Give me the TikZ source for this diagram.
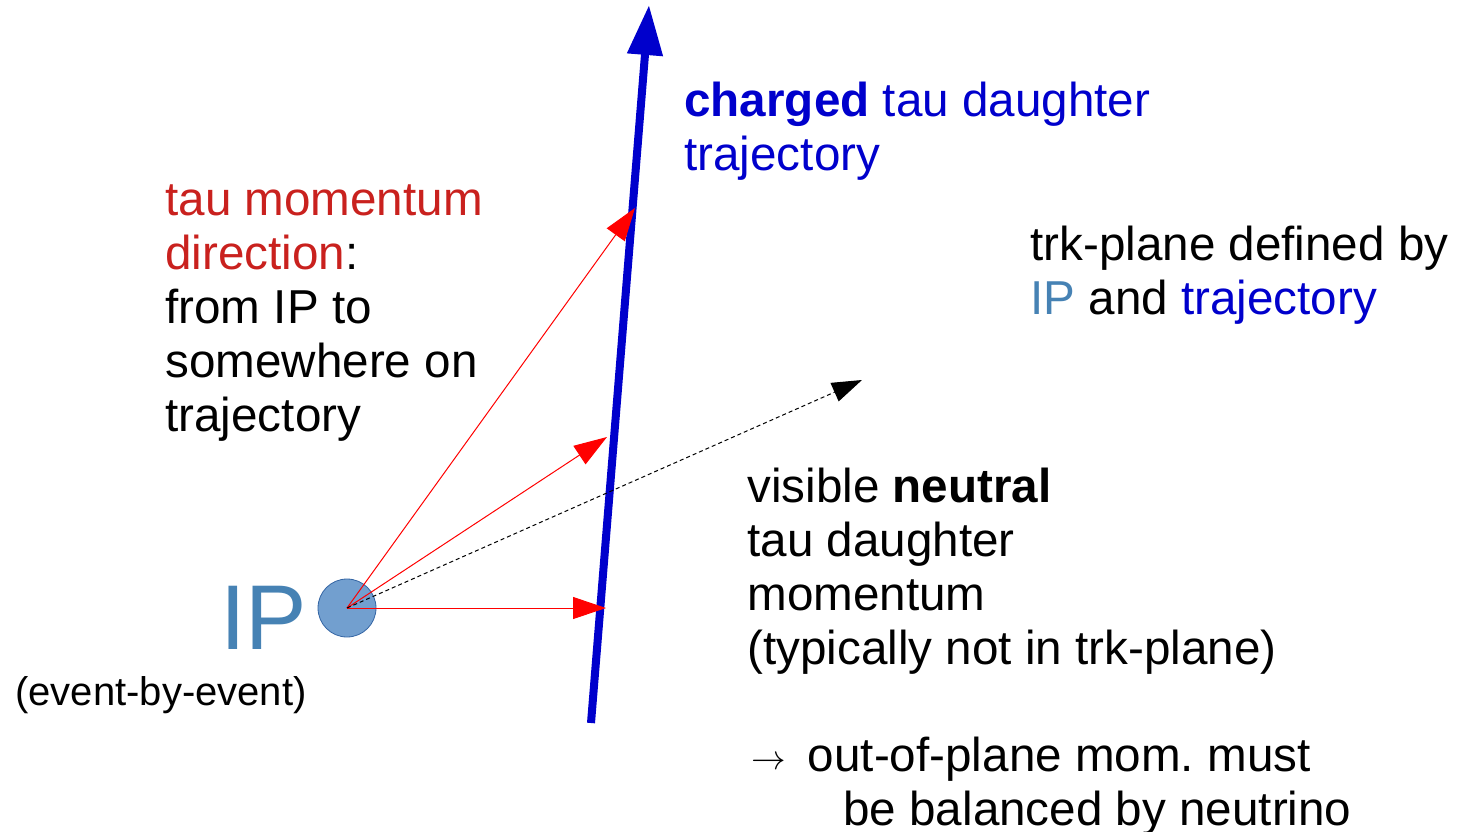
\documentclass[tikz,border=0pt]{standalone}
\usepackage{fontspec}
\setmainfont{Liberation Sans}
\usetikzlibrary{arrows.meta}
\definecolor{trkblue}{RGB}{0,0,204}
\definecolor{taured}{RGB}{201,33,30}
\definecolor{ipblue}{RGB}{70,130,180}
\definecolor{ipfill}{RGB}{114,159,207}
\definecolor{ipdraw}{RGB}{52,101,164}
\frenchspacing
\tikzset{
  txt/.style={anchor=base west, inner sep=0pt, font=\fontsize{23.8}{27}\selectfont},
  smalltxt/.style={anchor=base west, inner sep=0pt, font=\fontsize{20}{23}\selectfont},
  trkarrow/.style={draw=trkblue, line width=4pt, -{Triangle[length=25pt,width=17pt]}},
  tauarrow/.style={draw=red, line width=0.5pt, -{Triangle[length=16.5pt,width=11pt]}},
  neuarrow/.style={draw=black, line width=0.5pt, dash pattern=on 2pt off 1.5pt, -{Triangle[length=15pt,width=10pt]}},
}
\begin{document}
\begin{tikzpicture}[x=0.5pt,y=-0.5pt]
\useasboundingbox (0,0) rectangle (1458,831);
% trajectory
\coordinate (trkS) at (591,723);
\coordinate (trkE) at (649,5);
\draw[trkarrow] (trkS) -- (trkE);
% IP
\node[circle, fill=ipfill, draw=ipdraw, line width=0.4pt, minimum size=29pt, inner sep=0pt] (ip) at (347,608) {};
\node[anchor=base west, inner sep=0pt, text=ipblue, font=\fontsize{46}{50}\selectfont] (iplabel) at (220,649) {IP};
\node[smalltxt] (ebe) at (15,705) {(event-by-event)};
% tau arrows
\coordinate (t1) at (635,208);
\coordinate (t2) at (607,437);
\coordinate (t3) at (606,608);
\draw[tauarrow] (ip.center) -- (t1);
\draw[tauarrow] (ip.center) -- (t2);
\draw[tauarrow] (ip.center) -- (t3);
% neutral
\coordinate (nu) at (862,380);
\draw[neuarrow] (ip.center) -- (nu);
% texts left
\node[txt, text=taured] (l1) at (165,215) {tau momentum};
\node[txt] (l2) at (165,269) {\textcolor{taured}{direction}:};
\node[txt] (l3) at (165,323) {from IP to};
\node[txt] (l4) at (165,377) {somewhere on};
\node[txt] (l5) at (165,431) {trajectory};
% charged
\node[txt, text=trkblue] (c1) at (684,116) {\textbf{charged} tau daughter};
\node[txt, text=trkblue] (c2) at (684,170) {trajectory};
% trk plane
\node[txt] (p1) at (1030,260) {trk-plane defined by};
\node[txt] (p2) at (1030,314) {\textcolor{ipblue}{IP} and \textcolor{trkblue}{trajectory}};
% neutral text
\node[txt] (n1) at (747,502) {visible \textbf{neutral}};
\node[txt] (n2) at (747,556) {tau daughter};
\node[txt] (n3) at (747,610) {momentum};
\node[txt] (n4) at (747,664) {(typically not in trk-plane)};
% conclusion
\node[txt] (o1) at (751,771) {{\fontsize{19}{20}\selectfont\raisebox{1pt}{$\rightarrow$}}\hspace{11pt}out-of-plane mom. must};
\node[txt] (o2) at (843,825) {be balanced by neutrino};
\end{tikzpicture}
\end{document}
